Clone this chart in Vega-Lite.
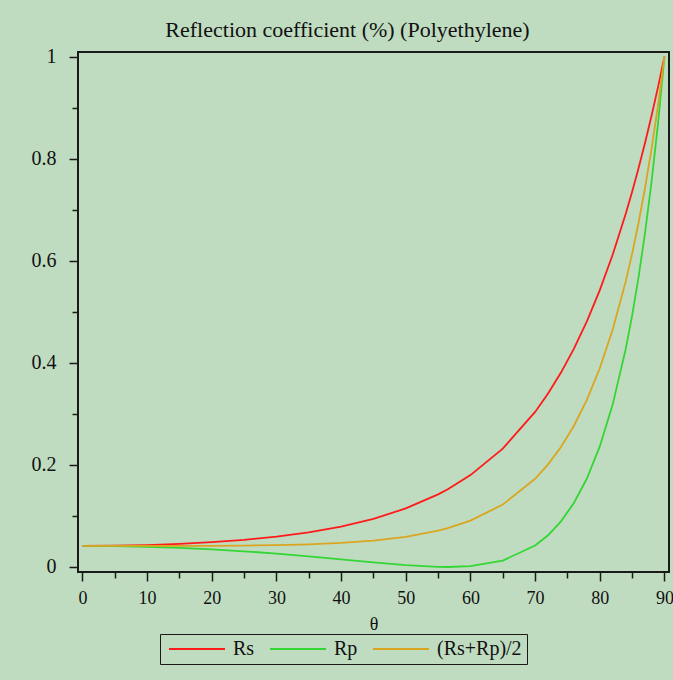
{
  "$schema": "https://vega.github.io/schema/vega-lite/v6.json",
  "autosize": {"type": "none"},
  "width": 591,
  "height": 520,
  "padding": {"left": 78, "top": 52, "right": 4, "bottom": 108},
  "background": "#c0dcc0",
  "config": {
    "view": {"stroke": "#1a1a1a", "strokeWidth": 2},
    "font": "Liberation Serif"
  },
  "title": {
    "text": "Reflection coefficient (%) (Polyethylene)",
    "font": "Liberation Serif",
    "fontSize": 22,
    "fontWeight": "normal",
    "color": "#111111",
    "anchor": "middle",
    "baseline": "alphabetic",
    "offset": -12,
    "dx": -26
  },
  "data": {
    "values": [
      {"theta": 0, "series": "Rs", "R": 0.041287},
      {"theta": 5, "series": "Rs", "R": 0.041704},
      {"theta": 10, "series": "Rs", "R": 0.042986},
      {"theta": 15, "series": "Rs", "R": 0.045216},
      {"theta": 20, "series": "Rs", "R": 0.04854},
      {"theta": 25, "series": "Rs", "R": 0.053188},
      {"theta": 30, "series": "Rs", "R": 0.059499},
      {"theta": 35, "series": "Rs", "R": 0.067956},
      {"theta": 40, "series": "Rs", "R": 0.079253},
      {"theta": 45, "series": "Rs", "R": 0.094374},
      {"theta": 50, "series": "Rs", "R": 0.114726},
      {"theta": 55, "series": "Rs", "R": 0.142318},
      {"theta": 56.5, "series": "Rs", "R": 0.152407},
      {"theta": 60, "series": "Rs", "R": 0.180019},
      {"theta": 65, "series": "Rs", "R": 0.231913},
      {"theta": 70, "series": "Rs", "R": 0.303772},
      {"theta": 72, "series": "Rs", "R": 0.339816},
      {"theta": 74, "series": "Rs", "R": 0.380948},
      {"theta": 76, "series": "Rs", "R": 0.427887},
      {"theta": 78, "series": "Rs", "R": 0.481438},
      {"theta": 80, "series": "Rs", "R": 0.542525},
      {"theta": 82, "series": "Rs", "R": 0.612137},
      {"theta": 84, "series": "Rs", "R": 0.691409},
      {"theta": 85, "series": "Rs", "R": 0.735042},
      {"theta": 86, "series": "Rs", "R": 0.781566},
      {"theta": 87, "series": "Rs", "R": 0.831137},
      {"theta": 88, "series": "Rs", "R": 0.883944},
      {"theta": 89, "series": "Rs", "R": 0.940167},
      {"theta": 90, "series": "Rs", "R": 1.0},
      {"theta": 0, "series": "Rp", "R": 0.041287},
      {"theta": 5, "series": "Rp", "R": 0.040868},
      {"theta": 10, "series": "Rp", "R": 0.039616},
      {"theta": 15, "series": "Rp", "R": 0.037519},
      {"theta": 20, "series": "Rp", "R": 0.034571},
      {"theta": 25, "series": "Rp", "R": 0.030774},
      {"theta": 30, "series": "Rp", "R": 0.026158},
      {"theta": 35, "series": "Rp", "R": 0.020809},
      {"theta": 40, "series": "Rp", "R": 0.014924},
      {"theta": 45, "series": "Rp", "R": 0.008907},
      {"theta": 50, "series": "Rp", "R": 0.003529},
      {"theta": 55, "series": "Rp", "R": 0.000233},
      {"theta": 56.5, "series": "Rp", "R": 0.0},
      {"theta": 60, "series": "Rp", "R": 0.001663},
      {"theta": 65, "series": "Rp", "R": 0.012643},
      {"theta": 70, "series": "Rp", "R": 0.042018},
      {"theta": 72, "series": "Rp", "R": 0.062208},
      {"theta": 74, "series": "Rp", "R": 0.089376},
      {"theta": 76, "series": "Rp", "R": 0.125541},
      {"theta": 78, "series": "Rp", "R": 0.173333},
      {"theta": 80, "series": "Rp", "R": 0.236195},
      {"theta": 82, "series": "Rp", "R": 0.318649},
      {"theta": 84, "series": "Rp", "R": 0.426702},
      {"theta": 85, "series": "Rp", "R": 0.492731},
      {"theta": 86, "series": "Rp", "R": 0.568376},
      {"theta": 87, "series": "Rp", "R": 0.655077},
      {"theta": 88, "series": "Rp", "R": 0.754537},
      {"theta": 89, "series": "Rp", "R": 0.868728},
      {"theta": 90, "series": "Rp", "R": 1.0},
      {"theta": 0, "series": "(Rs+Rp)/2", "R": 0.041287},
      {"theta": 5, "series": "(Rs+Rp)/2", "R": 0.041286},
      {"theta": 10, "series": "(Rs+Rp)/2", "R": 0.041301},
      {"theta": 15, "series": "(Rs+Rp)/2", "R": 0.041367},
      {"theta": 20, "series": "(Rs+Rp)/2", "R": 0.041555},
      {"theta": 25, "series": "(Rs+Rp)/2", "R": 0.041981},
      {"theta": 30, "series": "(Rs+Rp)/2", "R": 0.042829},
      {"theta": 35, "series": "(Rs+Rp)/2", "R": 0.044383},
      {"theta": 40, "series": "(Rs+Rp)/2", "R": 0.047089},
      {"theta": 45, "series": "(Rs+Rp)/2", "R": 0.05164},
      {"theta": 50, "series": "(Rs+Rp)/2", "R": 0.059127},
      {"theta": 55, "series": "(Rs+Rp)/2", "R": 0.071275},
      {"theta": 56.5, "series": "(Rs+Rp)/2", "R": 0.076204},
      {"theta": 60, "series": "(Rs+Rp)/2", "R": 0.090841},
      {"theta": 65, "series": "(Rs+Rp)/2", "R": 0.122278},
      {"theta": 70, "series": "(Rs+Rp)/2", "R": 0.172895},
      {"theta": 72, "series": "(Rs+Rp)/2", "R": 0.201012},
      {"theta": 74, "series": "(Rs+Rp)/2", "R": 0.235162},
      {"theta": 76, "series": "(Rs+Rp)/2", "R": 0.276714},
      {"theta": 78, "series": "(Rs+Rp)/2", "R": 0.327386},
      {"theta": 80, "series": "(Rs+Rp)/2", "R": 0.38936},
      {"theta": 82, "series": "(Rs+Rp)/2", "R": 0.465393},
      {"theta": 84, "series": "(Rs+Rp)/2", "R": 0.559056},
      {"theta": 85, "series": "(Rs+Rp)/2", "R": 0.613887},
      {"theta": 86, "series": "(Rs+Rp)/2", "R": 0.674971},
      {"theta": 87, "series": "(Rs+Rp)/2", "R": 0.743107},
      {"theta": 88, "series": "(Rs+Rp)/2", "R": 0.819241},
      {"theta": 89, "series": "(Rs+Rp)/2", "R": 0.904448},
      {"theta": 90, "series": "(Rs+Rp)/2", "R": 1.0}
    ]
  },
  "mark": {"type": "line", "strokeWidth": 1.8, "clip": true},
  "encoding": {
    "x": {
      "field": "theta",
      "type": "quantitative",
      "scale": {"domain": [-0.68, 90.7], "nice": false, "zero": false},
      "axis": {
        "title": "θ",
        "titleFont": "Liberation Serif",
        "titleFontSize": 18,
        "titleFontWeight": "normal",
        "titleColor": "#111111",
        "titlePadding": 8,
        "values": [0, 5, 10, 15, 20, 25, 30, 35, 40, 45, 50, 55, 60, 65, 70, 75, 80, 85, 90],
        "labelExpr": "datum.value % 10 === 0 ? datum.label : ''",
        "labelFont": "Liberation Serif",
        "labelFontSize": 18,
        "labelColor": "#111111",
        "labelPadding": 8,
        "labelFlush": false,
        "labelOverlap": false,
        "domain": false,
        "grid": false,
        "tickColor": "#1a1a1a",
        "tickWidth": 1.5,
        "tickSize": {"condition": {"test": "datum.value % 10 === 0", "value": 9}, "value": 6}
      }
    },
    "y": {
      "field": "R",
      "type": "quantitative",
      "scale": {"domain": [-0.0098, 1.009], "nice": false, "zero": false},
      "axis": {
        "title": null,
        "values": [0, 0.1, 0.2, 0.3, 0.4, 0.5, 0.6, 0.7, 0.8, 0.9, 1],
        "format": ".1~f",
        "labelExpr": "round(datum.value * 10) % 2 === 0 ? datum.label : ''",
        "labelFont": "Liberation Serif",
        "labelFontSize": 20,
        "labelColor": "#111111",
        "labelPadding": 13,
        "labelFlush": false,
        "labelOverlap": false,
        "domain": false,
        "grid": false,
        "tickColor": "#1a1a1a",
        "tickWidth": 1.5,
        "tickSize": {"condition": {"test": "round(datum.value * 10) % 2 === 0", "value": 9}, "value": 6}
      }
    },
    "color": {
      "field": "series",
      "type": "nominal",
      "scale": {"domain": ["Rs", "Rp", "(Rs+Rp)/2"], "range": ["#ff1a1a", "#33d633", "#daa520"]},
      "legend": {
        "title": null,
        "orient": "none",
        "direction": "horizontal",
        "legendX": 82,
        "legendY": 582,
        "symbolType": "M-1.2,0H10",
        "symbolSize": 100,
        "symbolStrokeWidth": 2,
        "labelFont": "Liberation Serif",
        "labelFontSize": 20,
        "labelColor": "#111111",
        "labelOffset": 48,
        "columnPadding": 11,
        "padding": 5,
        "strokeColor": "#1a1a1a"
      }
    }
  }
}
